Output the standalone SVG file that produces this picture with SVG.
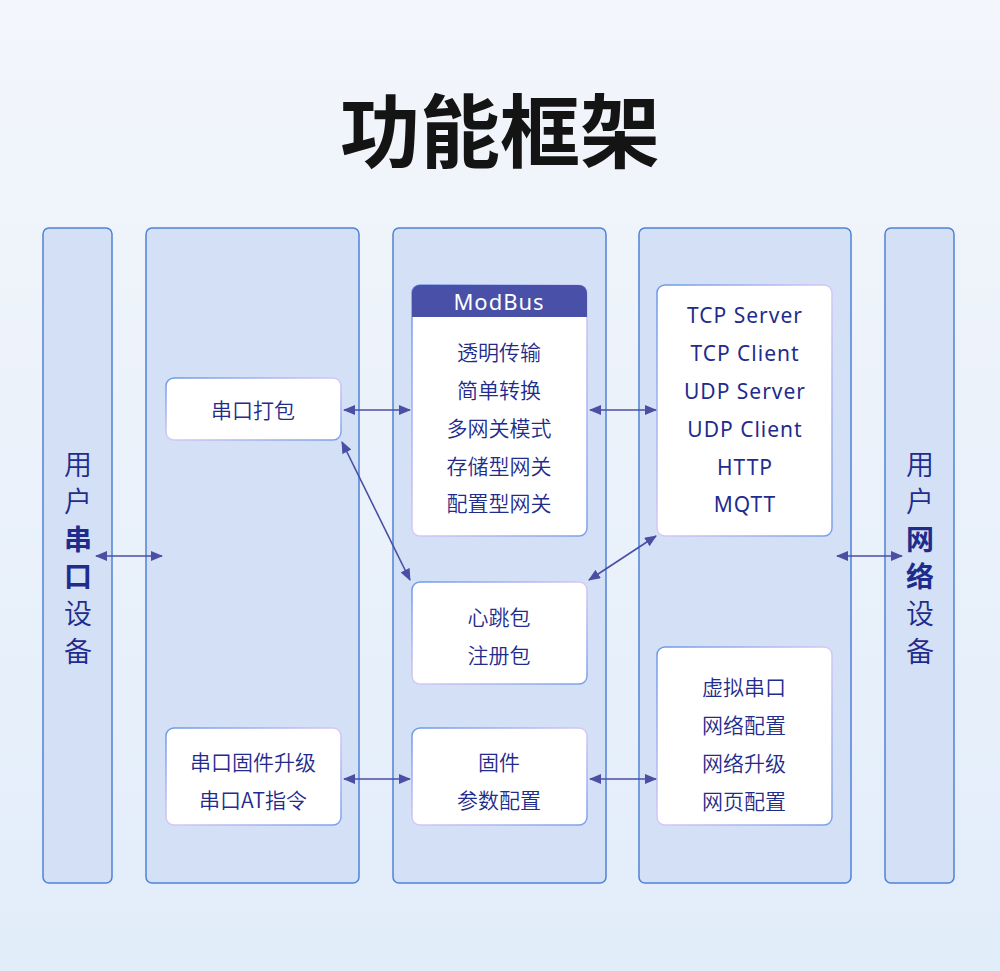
<svg xmlns="http://www.w3.org/2000/svg" width="1000" height="971" viewBox="0 0 1000 971">
<defs>
<linearGradient id="bg" x1="0" y1="0" x2="0" y2="1">
<stop offset="0" stop-color="#f3f6fb"/>
<stop offset="1" stop-color="#e2edfa"/>
</linearGradient>
<linearGradient id="nb" x1="0" y1="0" x2="1" y2="1">
<stop offset="0" stop-color="#6b98e6"/>
<stop offset="0.5" stop-color="#d8c8f6"/>
<stop offset="1" stop-color="#7aa0ea"/>
</linearGradient>
<marker id="ah" viewBox="0 0 12 10" refX="11" refY="5" markerWidth="12" markerHeight="10" markerUnits="userSpaceOnUse" orient="auto-start-reverse">
<path d="M0,0 L12,5 L0,10 Z" fill="#4a4fa3"/>
</marker>
</defs>
<style>
.col{fill:#d3e0f5;stroke:#4f82d6;stroke-width:1.5}
.node{fill:#ffffff;stroke:url(#nb);stroke-width:1.5}
.t{font-family:"Noto Sans CJK SC","Noto Sans",sans-serif;font-size:21px;font-weight:350;fill:#1f2c8c;text-anchor:middle;dominant-baseline:central}
.l{font-family:"Noto Sans","Noto Sans CJK SC",sans-serif;font-size:21px;font-weight:400;letter-spacing:1px}
.v{font-family:"Noto Sans CJK SC",sans-serif;font-size:28px;font-weight:350;fill:#1f2c8c;text-anchor:middle;dominant-baseline:central}
.b{font-weight:bold}
.c{stroke:#4a4fa3;stroke-width:1.6;fill:none;marker-start:url(#ah);marker-end:url(#ah)}
</style>
<rect width="1000" height="971" fill="url(#bg)"/>
<text x="500" y="126" font-family="Noto Sans CJK SC,sans-serif" font-size="80" font-weight="bold" fill="#141414" text-anchor="middle" dominant-baseline="central">功能框架</text>

<g id="col-user-serial">
<rect class="col" x="43" y="228" width="69" height="655" rx="6"/>
<text class="v" x="78" y="463">用</text>
<text class="v" x="78" y="500">户</text>
<text class="v b" x="78" y="538">串</text>
<text class="v b" x="78" y="575">口</text>
<text class="v" x="78" y="612">设</text>
<text class="v" x="78" y="650">备</text>
</g>
<g id="col-2"><rect class="col" x="146" y="228" width="213" height="655" rx="6"/></g>
<g id="col-3"><rect class="col" x="393" y="228" width="213" height="655" rx="6"/></g>
<g id="col-4"><rect class="col" x="639" y="228" width="212" height="655" rx="6"/></g>
<g id="col-user-net">
<rect class="col" x="885" y="228" width="69" height="655" rx="6"/>
<text class="v" x="920" y="463">用</text>
<text class="v" x="920" y="500">户</text>
<text class="v b" x="920" y="538">网</text>
<text class="v b" x="920" y="575">络</text>
<text class="v" x="920" y="612">设</text>
<text class="v" x="920" y="650">备</text>
</g>

<g id="node-pack">
<rect class="node" x="166" y="378" width="175" height="62" rx="8"/>
<text class="t" x="253" y="409">串口打包</text>
</g>
<g id="node-modbus">
<rect class="node" x="412" y="285" width="175" height="251" rx="8"/>
<path d="M412,317 V293 a8,8 0 0 1 8,-8 H579 a8,8 0 0 1 8,8 V317 Z" fill="#4850a8"/>
<text class="t l" x="499" y="301" style="fill:#ffffff;font-size:22px">ModBus</text>
<text class="t" x="499" y="351">透明传输</text>
<text class="t" x="499" y="389">简单转换</text>
<text class="t" x="499" y="427">多网关模式</text>
<text class="t" x="499" y="465">存储型网关</text>
<text class="t" x="499" y="502">配置型网关</text>
</g>
<g id="node-proto">
<rect class="node" x="657" y="285" width="175" height="251" rx="8"/>
<text class="t l" x="745" y="315">TCP Server</text>
<text class="t l" x="745" y="353">TCP Client</text>
<text class="t l" x="745" y="391">UDP Server</text>
<text class="t l" x="745" y="429">UDP Client</text>
<text class="t l" x="745" y="467">HTTP</text>
<text class="t l" x="745" y="504">MQTT</text>
</g>
<g id="node-heart">
<rect class="node" x="412" y="582" width="175" height="102" rx="8"/>
<text class="t" x="499" y="616">心跳包</text>
<text class="t" x="499" y="654">注册包</text>
</g>
<g id="node-vcom">
<rect class="node" x="657" y="647" width="175" height="178" rx="8"/>
<text class="t" x="744" y="686">虚拟串口</text>
<text class="t" x="744" y="724">网络配置</text>
<text class="t" x="744" y="762">网络升级</text>
<text class="t" x="744" y="800">网页配置</text>
</g>
<g id="node-fwserial">
<rect class="node" x="166" y="728" width="175" height="97" rx="8"/>
<text class="t" x="253" y="761">串口固件升级</text>
<text class="t" x="253" y="799">串口AT指令</text>
</g>
<g id="node-fw">
<rect class="node" x="412" y="728" width="175" height="97" rx="8"/>
<text class="t" x="499" y="761">固件</text>
<text class="t" x="499" y="799">参数配置</text>
</g>

<g id="connectors">
<line class="c" x1="96" y1="556" x2="162" y2="556"/>
<line class="c" x1="837" y1="556" x2="902" y2="556"/>
<line class="c" x1="344" y1="410" x2="410" y2="410"/>
<line class="c" x1="590" y1="410" x2="656" y2="410"/>
<line class="c" x1="342" y1="442" x2="410" y2="580"/>
<line class="c" x1="656" y1="536" x2="589" y2="580"/>
<line class="c" x1="344" y1="779" x2="410" y2="779"/>
<line class="c" x1="590" y1="779" x2="656" y2="779"/>
</g>
</svg>
